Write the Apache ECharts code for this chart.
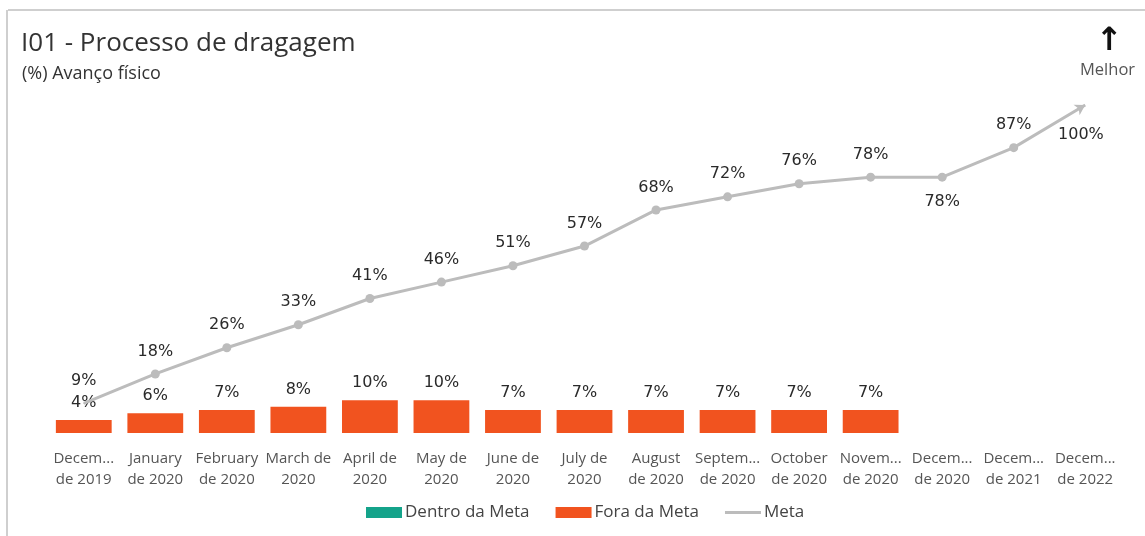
<!DOCTYPE html>
<html>
<head>
<meta charset="utf-8">
<script src="https://cdn.jsdelivr.net/npm/echarts@6/dist/echarts.min.js"></script>
<style>
  html, body { margin: 0; padding: 0; background: #fff; }
  #chart { width: 1145px; height: 536px; }
</style>
</head>
<body>
<div id="chart"></div>
<script>
// Tick labels along the month axis (as displayed, two lines each)
const categories = [
  'Decem...\nde 2019', 'January\nde 2020', 'February\nde 2020', 'March de\n2020',
  'April de\n2020', 'May de\n2020', 'June de\n2020', 'July de\n2020',
  'August\nde 2020', 'Septem...\nde 2020', 'October\nde 2020', 'Novem...\nde 2020',
  'Decem...\nde 2020', 'Decem...\nde 2021', 'Decem...\nde 2022'
];
// Realized physical progress (%) – within target (none) and off target
const dentroDaMeta = [null, null, null, null, null, null, null, null, null, null, null, null, null, null, null];
const foraDaMeta = [4, 6, 7, 8, 10, 10, 7, 7, 7, 7, 7, 7, null, null, null];
// Target curve (%)
const meta = [9, 18, 26, 33, 41, 46, 51, 57, 68, 72, 76, 78, 78, 87, 100];
// Which target labels sit under the line
const metaBelow = [false, false, false, false, false, false, false, false, false, false, false, false, true, false, true];

const chart = echarts.init(document.getElementById('chart'));

const labelFont = 'DejaVu Sans';
const uiFont = '"Open Sans", "Noto Sans", sans-serif';

const metaData = meta.map((v, i) => {
  const item = {
    value: v,
    label: metaBelow[i] ? { position: 'bottom', distance: 12 } : { position: 'top', distance: 10 }
  };
  if (i === 0) { item.symbolSize = 1; item.label = { position: 'top', distance: 14 }; }
  if (i === meta.length - 1) { item.symbol = 'arrow'; item.symbolSize = [9, 10]; item.symbolRotate = -60; }
  return item;
});

chart.setOption({
  animation: false,
  textStyle: { fontFamily: uiFont },
  grid: { left: 48, right: 24, top: 105, bottom: 103 },
  graphic: [
    { type: 'line', shape: { x1: 8, y1: 10, x2: 1145, y2: 10 }, style: { stroke: '#cfcfcf', lineWidth: 2 } },
    { type: 'line', shape: { x1: 7, y1: 10, x2: 7, y2: 536 }, style: { stroke: '#cfcfcf', lineWidth: 2 } },
    { type: 'text', left: 21, top: 31, style: { text: 'I01 - Processo de dragagem', font: '26px "Open Sans", sans-serif', fill: '#333' } },
    { type: 'text', left: 22, top: 65, style: { text: '(%) Avanço físico', font: '18px "Open Sans", sans-serif', fill: '#333' } },
    { type: 'text', left: 1096, top: 26, style: { text: '↑', font: 'bold 32px "DejaVu Sans", sans-serif', fill: '#111' } },
    { type: 'text', left: 1080, top: 62, style: { text: 'Melhor', font: '16.5px "Open Sans", sans-serif', fill: '#555' } }
  ],
  legend: {
    bottom: 10,
    left: 361,
    itemWidth: 36,
    itemHeight: 11,
    itemGap: 26,
    textStyle: { fontSize: 17, color: '#444', fontFamily: uiFont, padding: [0, 0, 0, -2] },
    data: [
      { name: 'Dentro da Meta', icon: 'rect' },
      { name: 'Fora da Meta', icon: 'rect' },
      { name: 'Meta', icon: 'path://M0,0 L36,0 L36,3 L0,3 Z' }
    ]
  },
  xAxis: {
    type: 'category',
    data: categories,
    axisLine: { show: false },
    axisTick: { show: false },
    axisLabel: { interval: 0, margin: 15, fontSize: 15, lineHeight: 21, color: '#555', fontFamily: uiFont }
  },
  yAxis: {
    type: 'value',
    min: 0,
    max: 100,
    show: false,
    splitLine: { show: false }
  },
  series: [
    {
      name: 'Dentro da Meta',
      type: 'bar',
      stack: 'real',
      barCategoryGap: '22%',
      itemStyle: { color: '#14a38a' },
      data: dentroDaMeta
    },
    {
      name: 'Fora da Meta',
      type: 'bar',
      stack: 'real',
      barCategoryGap: '22%',
      itemStyle: { color: '#f1531f' },
      label: {
        show: true, position: 'top', distance: 9,
        formatter: '{c}%', fontSize: 16, color: '#2a2a2a', fontFamily: labelFont
      },
      data: foraDaMeta
    },
    {
      name: 'Meta',
      type: 'line',
      symbol: 'circle',
      symbolSize: 9,
      itemStyle: { color: '#bcbcbc' },
      lineStyle: { color: '#bcbcbc', width: 3 },
      label: {
        show: true, formatter: '{c}%', fontSize: 16, color: '#2a2a2a', fontFamily: labelFont
      },
      labelLayout: { hideOverlap: false },
      z: 3,
      data: metaData
    }
  ]
});
</script>
</body>
</html>
